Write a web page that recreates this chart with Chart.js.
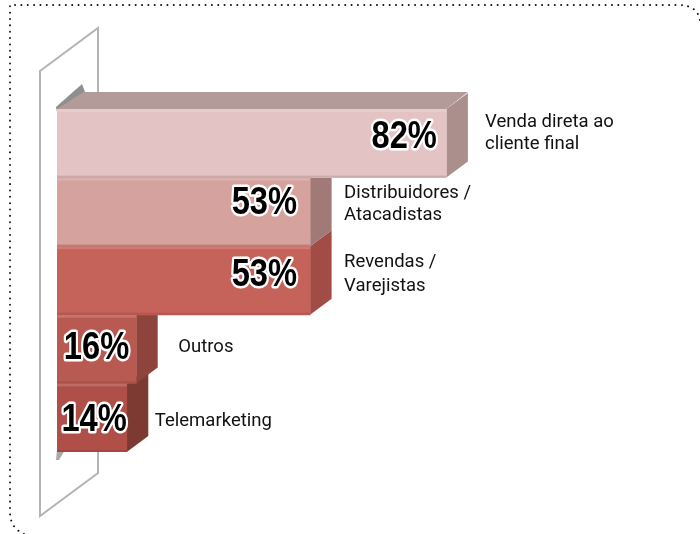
<!DOCTYPE html>
<html>
<head>
<meta charset="utf-8">
<style>
    html, body { margin: 0; padding: 0; background: #fff; }
    #wrap { width: 700px; height: 534px; }
</style>
<script src="https://cdn.jsdelivr.net/npm/chart.js@4"></script>
</head>
<body>
<div id="wrap"><canvas id="sales-chart" width="700" height="534"></canvas></div>
<script>
const categories = [['Venda direta ao', 'cliente final'], ['Distribuidores /', 'Atacadistas'], ['Revendas /', 'Varejistas'], ['Outros'], ['Telemarketing']];
const percentages = [82, 53, 53, 16, 14];
const frontColors = ['#e3c3c3', '#d5a29e', '#c5625a', '#b95a52', '#b04f48'];
const sideColors = ['#ab8f8d', '#a17a78', '#a24c46', '#8e443c', '#7c3a33'];

// label placement, relative to the end and the middle of each bar
const nameGapX = [38.6, 34, 34, 42, 28];
const nameShiftY = [[-21, 1], [-19, 3], [-18, 6], [-2], [4]];
const percentGapX = [-9.5, -13, -13, -7, 0];
const percentShiftY = [-6, -8, -5, -1, 3];

const depthX = 21.5;
const depthY = 16;
const axisStart = -0.85;

function poly(ctx, pts, fill) {
    ctx.beginPath();
    pts.forEach((p, i) => i ? ctx.lineTo(p[0], p[1]) : ctx.moveTo(p[0], p[1]));
    ctx.closePath();
    ctx.fillStyle = fill;
    ctx.fill();
}

// dotted frame and the grey panel behind the bars
const backdrop = {
    id: 'backdrop',
    beforeDatasetsDraw(chart) {
        const ctx = chart.ctx;
        ctx.save();
        ctx.strokeStyle = '#111';
        ctx.lineWidth = 1.9;
        ctx.lineCap = 'round';
        ctx.setLineDash([0.1, 6.25]);
        ctx.beginPath();
        ctx.moveTo(24, 534);
        ctx.quadraticCurveTo(10, 528, 10, 512);
        ctx.lineTo(10, 5);
        ctx.lineTo(680, 5);
        ctx.quadraticCurveTo(699, 6, 700, 22);
        ctx.stroke();
        ctx.setLineDash([]);
        ctx.lineCap = 'butt';

        ctx.strokeStyle = '#b4b4b6';
        ctx.lineWidth = 2;
        ctx.beginPath();
        ctx.moveTo(98, 92);
        ctx.lineTo(98, 28);
        ctx.lineTo(40, 71);
        ctx.lineTo(40, 516);
        ctx.lineTo(98, 473);
        ctx.lineTo(98, 450);
        ctx.stroke();

        // shadow where the bars meet the panel
        poly(ctx, [[56, 107], [82, 84], [85, 92], [57, 112]], '#8f8f90');
        poly(ctx, [[57, 450], [65, 450], [59, 460], [56, 460]], '#a9a9ab');

        // 3d sides, back to front
        const bars = chart.getDatasetMeta(0).data;
        for (let i = bars.length - 1; i >= 0; i--) {
            const b = bars[i];
            const top = b.y - b.height / 2;
            const bottom = b.y + b.height / 2;
            poly(ctx, [[b.x, top], [b.x + depthX, top - depthY], [b.x + depthX, bottom - depthY], [b.x, bottom]], sideColors[i]);
        }
        const first = bars[0];
        const firstTop = first.y - first.height / 2;
        poly(ctx, [[first.base, firstTop], [first.base + depthX + 5, firstTop - depthY - 1], [first.x + depthX, firstTop - depthY - 1], [first.x, firstTop]], '#b29b99');
        ctx.restore();
    }
};

const barLabels = {
    id: 'barLabels',
    afterDatasetsDraw(chart) {
        const ctx = chart.ctx;
        const bars = chart.getDatasetMeta(0).data;
        ctx.save();
        bars.forEach((b, i) => {
            const top = b.y - b.height / 2;
            const width = b.x - b.base;
            // light top edge, dark bottom edge
            ctx.fillStyle = 'rgba(255,255,255,0.16)';
            ctx.fillRect(b.base, top, width, 3);
            ctx.fillStyle = 'rgba(70,20,20,0.14)';
            ctx.fillRect(b.base, top + b.height - 2, width, 2);

            // percentage in the end of the bar
            ctx.save();
            ctx.translate(b.x + percentGapX[i], b.y + percentShiftY[i]);
            ctx.scale(0.86, 1);
            ctx.font = 'bold 38px "Liberation Sans", sans-serif';
            ctx.textAlign = 'right';
            ctx.textBaseline = 'middle';
            ctx.lineJoin = 'round';
            ctx.lineWidth = 5;
            ctx.strokeStyle = '#fff';
            ctx.fillStyle = '#000';
            const text = percentages[i] + '%';
            ctx.strokeText(text, 0, 0);
            ctx.fillText(text, 0, 0);
            ctx.restore();

            // category name to the right
            categories[i].forEach((line, n) => {
                ctx.save();
                ctx.translate(b.x + nameGapX[i], b.y + nameShiftY[i][n]);
                ctx.scale(0.975, 1);
                ctx.font = '19px Roboto, sans-serif';
                ctx.textAlign = 'left';
                ctx.textBaseline = 'middle';
                ctx.fillStyle = '#111';
                ctx.fillText(line, 0, 0);
                ctx.restore();
            });
        });
        ctx.restore();
    }
};

document.addEventListener('DOMContentLoaded', function () {
    const ctx = document.getElementById('sales-chart').getContext('2d');
    new Chart(ctx, {
        type: 'bar',
        data: {
            labels: categories.map(c => c.join(' ')),
            datasets: [{
                data: percentages,
                base: axisStart,
                backgroundColor: frontColors,
                borderWidth: 0,
                barPercentage: 1,
                categoryPercentage: 1
            }]
        },
        options: {
            indexAxis: 'y',
            responsive: false,
            animation: false,
            layout: { padding: { left: 57, top: 109, right: 169, bottom: 82 } },
            plugins: { legend: { display: false }, tooltip: { enabled: false } },
            scales: {
                x: { display: false, min: axisStart, max: 100 },
                y: { display: false }
            }
        },
        plugins: [backdrop, barLabels]
    });
});
</script>
</body>
</html>
